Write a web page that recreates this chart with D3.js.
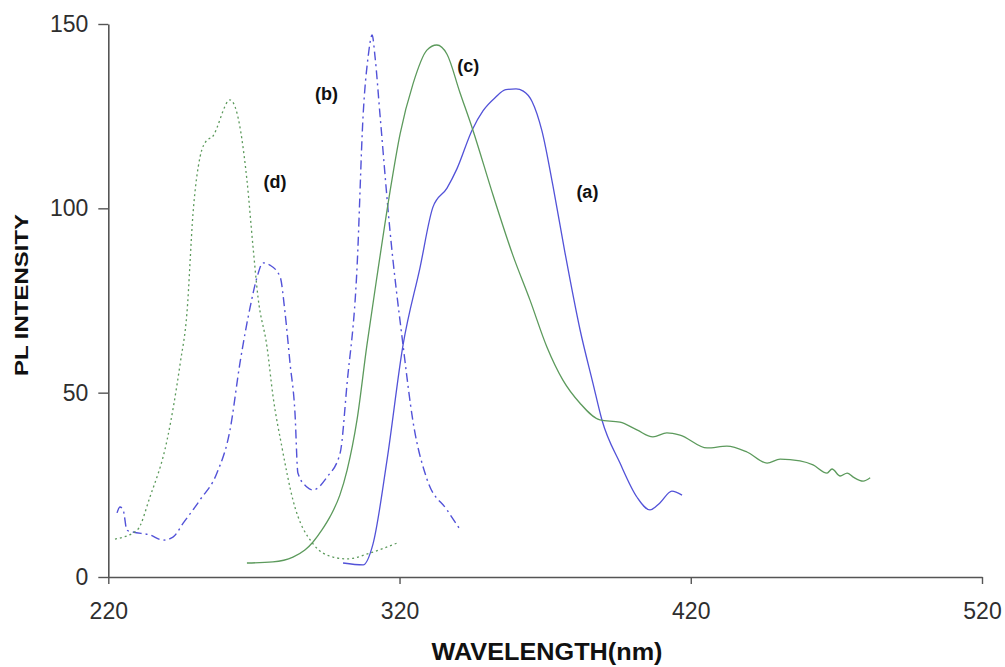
<!DOCTYPE html>
<html>
<head>
<meta charset="utf-8">
<script src="https://cdn.jsdelivr.net/npm/d3@7"></script>
<style>
  html, body { margin: 0; padding: 0; background: #ffffff; }
  svg { display: block; }
</style>
</head>
<body>
<svg id="chart" width="1005" height="667"></svg>
<script>
// ---- data (wavelength nm, PL intensity) ----
const seriesA_x = [300.6,307.5,310.9,315.7,321.2,327.0,331.5,336.3,339.7,344.9,348.7,352.8,356.5,360.0,362.5,365.5,368.9,372.7,376.8,382.0,386.4,389.5,395.7,401.5,406.0,409.4,413.5,417.0];
const seriesA_y = [3.8,3.3,9.0,31.7,62.9,83.8,100.4,105.5,110.7,121.2,126.5,130.0,132.2,132.4,131.8,129.0,121.0,106.0,88.0,67.0,52.6,42.6,30.9,21.7,18.2,20.1,23.3,22.2];

const seriesB_x = [223.0,224.0,225.1,226.4,228.5,234.3,238.8,242.2,245.7,251.5,257.3,261.8,265.2,268.7,271.1,273.1,275.5,279.0,280.7,282.4,284.1,285.1,288.2,290.3,295.1,299.6,302.0,305.4,307.5,309.2,310.6,311.6,313.3,316.7,321.2,324.6,329.4,336.3,340.7];
const seriesB_y = [17.4,19.0,18.2,12.7,12.2,11.4,10.0,10.8,14.6,20.9,28.2,39.9,58.0,73.2,81.4,85.2,84.6,81.4,71.6,58.0,44.5,28.2,24.4,23.6,27.1,33.6,52.6,83.8,125.3,141.0,147.0,141.0,125.3,94.1,62.9,42.3,26.6,18.2,13.0];

const seriesC_x = [267.6,276.5,283.4,287.5,290.3,293.3,296.1,299.5,302.0,305.4,308.8,312.6,316.7,320.2,324.6,329.4,332.8,336.3,340.7,345.2,352.1,358.9,364.8,370.6,376.1,381.9,388.8,395.7,401.5,407.0,411.8,416.3,425.6,432.4,439.3,446.2,450.7,457.5,462.0,466.8,468.5,471.3,473.7,475.8,479.2,481.6];
const seriesC_y = [3.8,4.1,5.4,7.3,9.5,12.7,16.3,22.2,29.0,42.6,62.9,83.3,104.4,120.2,133.7,142.9,144.3,141.8,131.5,121.2,103.6,87.3,75.1,62.4,53.4,47.2,42.6,42.0,39.9,38.0,39.1,38.5,35.0,35.5,33.9,30.9,32.0,31.5,30.4,28.2,29.3,27.4,28.2,27.1,26.0,26.9];

const seriesD_x = [222.3,229.9,234.3,240.2,244.7,247.0,249.1,251.5,253.9,255.6,261.8,264.2,267.6,269.7,271.4,274.5,276.6,279.6,283.4,290.3,297.2,302.0,309.9,319.1];
const seriesD_y = [10.3,12.7,21.7,37.2,58.0,71.6,98.7,113.9,118.5,119.3,129.4,125.8,107.7,89.5,75.9,62.4,48.8,35.3,20.9,9.0,5.4,4.9,6.5,9.2];

const xTicks = [220, 320, 420, 520];
const yTicks = [0, 50, 100, 150];
const labels = ["(a)", "(b)", "(c)", "(d)"];
const labelX = [384.5, 294.9, 343.6, 277.2];
const labelY = [104.0, 130.8, 138.4, 106.7];
const xTitle = "WAVELENGTH(nm)";
const yTitle = "PL INTENSITY";

// ---- layout ----
const svg = d3.select("#chart");
const x = d3.scaleLinear().domain([220, 520]).range([108.3, 982]);
const y = d3.scaleLinear().domain([0, 150]).range([577, 24]);

const blue = "#5252d8";
const green = "#5c9a5c";

const series = [
  { xs: seriesA_x, ys: seriesA_y, color: blue, dash: null, w: 1.3 },
  { xs: seriesB_x, ys: seriesB_y, color: blue, dash: "9,4,2,4", w: 1.4 },
  { xs: seriesC_x, ys: seriesC_y, color: green, dash: null, w: 1.3 },
  { xs: seriesD_x, ys: seriesD_y, color: green, dash: "2,3", w: 1.3 }
];

const line = d3.line().x(d => x(d[0])).y(d => y(d[1])).curve(d3.curveMonotoneX);

series.forEach(s => {
  const pts = s.xs.map((v, i) => [v, s.ys[i]]);
  svg.append("path")
    .attr("d", line(pts))
    .attr("fill", "none")
    .attr("stroke", s.color)
    .attr("stroke-width", s.w)
    .attr("stroke-dasharray", s.dash);
});

// axes
const axisColor = "#555";
const xAxis = svg.append("g")
  .attr("transform", `translate(0,${y(0)})`)
  .call(d3.axisBottom(x).tickValues(xTicks).tickSize(7).tickPadding(19).tickSizeOuter(0));
const yAxis = svg.append("g")
  .attr("transform", `translate(${x(220)},0)`)
  .call(d3.axisLeft(y).tickValues(yTicks).tickSize(10).tickPadding(10).tickSizeOuter(0));

[xAxis, yAxis].forEach(g => {
  g.select(".domain").attr("stroke", axisColor).attr("stroke-width", 1.6);
  g.selectAll(".tick line").attr("stroke", axisColor).attr("stroke-width", 1.4);
  g.selectAll(".tick text")
    .attr("fill", "#2e2e2e")
    .style("font-family", "Liberation Sans, Arial, sans-serif")
    .style("font-size", "23px");
});

// curve labels
svg.selectAll("text.lbl")
  .data(labels)
  .enter().append("text")
  .attr("class", "lbl")
  .attr("x", (d, i) => x(labelX[i]))
  .attr("y", (d, i) => y(labelY[i]))
  .attr("text-anchor", "middle")
  .attr("dominant-baseline", "middle")
  .style("font-family", "Liberation Sans, Arial, sans-serif")
  .style("font-weight", "bold")
  .style("font-size", "18px")
  .attr("fill", "#111")
  .text(d => d);

// axis titles
svg.append("text")
  .attr("x", 547)
  .attr("y", 660)
  .attr("text-anchor", "middle")
  .attr("textLength", 231)
  .attr("lengthAdjust", "spacingAndGlyphs")
  .style("font-family", "Liberation Sans, Arial, sans-serif")
  .style("font-weight", "bold")
  .style("font-size", "24px")
  .attr("fill", "#111")
  .text(xTitle);

svg.append("text")
  .attr("transform", "translate(28,295) rotate(-90)")
  .attr("text-anchor", "middle")
  .attr("textLength", 162)
  .attr("lengthAdjust", "spacingAndGlyphs")
  .style("font-family", "Liberation Sans, Arial, sans-serif")
  .style("font-weight", "bold")
  .style("font-size", "18px")
  .attr("fill", "#111")
  .text(yTitle);
</script>
</body>
</html>
